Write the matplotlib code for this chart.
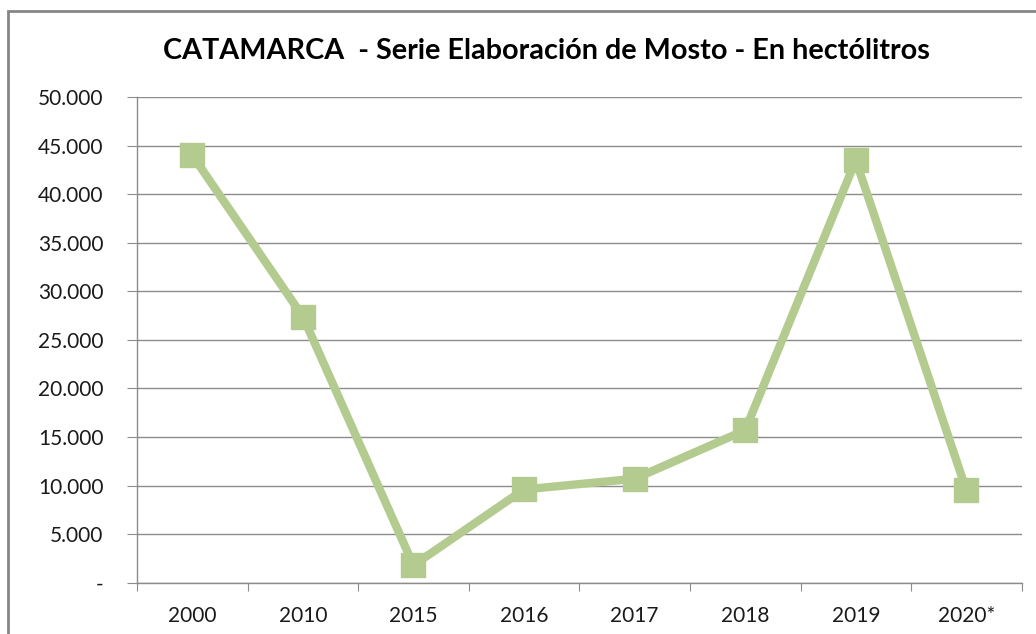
import matplotlib.pyplot as plt
import matplotlib.patches as patches
from matplotlib.ticker import FuncFormatter, FixedLocator

years = ['2000', '2010', '2015', '2016', '2017', '2018', '2019', '2020*']
hectolitros = [44000, 27400, 1800, 9600, 10700, 15700, 43500, 9500]

c_line = '#b3cb8f'
c_grid = '#8c8c8c'

plt.rcParams['font.family'] = ['Lato', 'DejaVu Sans']

fig = plt.figure(figsize=(10.36, 6.34), dpi=100)
fig.patches.append(patches.Rectangle((8 / 1036, -0.01), 1.02, 1 - 11 / 634 + 0.01,
                                     transform=fig.transFigure, fill=False,
                                     edgecolor='#868686', linewidth=2))

ax = fig.add_axes([137 / 1036, 51.3 / 634, 884.7 / 1036, 485.7 / 634])
x = list(range(len(years)))
ax.plot(x, hectolitros, color=c_line, linewidth=6, marker='s', markersize=17,
        markerfacecolor=c_line, markeredgecolor=c_line, zorder=3)

ax.set_xlim(-0.5, len(years) - 0.5)
ax.set_ylim(0, 50000)
ax.set_yticks(range(0, 50001, 5000))
ax.yaxis.set_major_formatter(FuncFormatter(
    lambda v, p: '-' if v == 0 else f'{int(v):,}'.replace(',', '.')))
ax.grid(axis='y', color=c_grid, linewidth=1)
ax.set_axisbelow(True)

ax.xaxis.set_major_locator(FixedLocator([i - 0.5 for i in range(len(years) + 1)]))
ax.xaxis.set_minor_locator(FixedLocator(x))
ax.set_xticklabels([])
ax.set_xticklabels(years, minor=True)
ax.tick_params(axis='x', which='major', length=6, color=c_grid, direction='out')
ax.tick_params(axis='x', which='minor', length=0, pad=17, labelsize=15, labelcolor='#1a1a1a')
ax.tick_params(axis='y', length=7, color=c_grid, labelsize=15, labelcolor='#1a1a1a', pad=17)

for side in ['top', 'right']:
    ax.spines[side].set_visible(False)
for side in ['left', 'bottom']:
    ax.spines[side].set_color(c_grid)
    ax.spines[side].set_linewidth(1)

fig.text(0.527, 1 - 51 / 634, 'CATAMARCA  - Serie Elaboración de Mosto - En hectólitros',
         ha='center', va='center', fontsize=20.7, fontweight='bold', color='#000000')

fig.savefig('out.png', dpi=100)
